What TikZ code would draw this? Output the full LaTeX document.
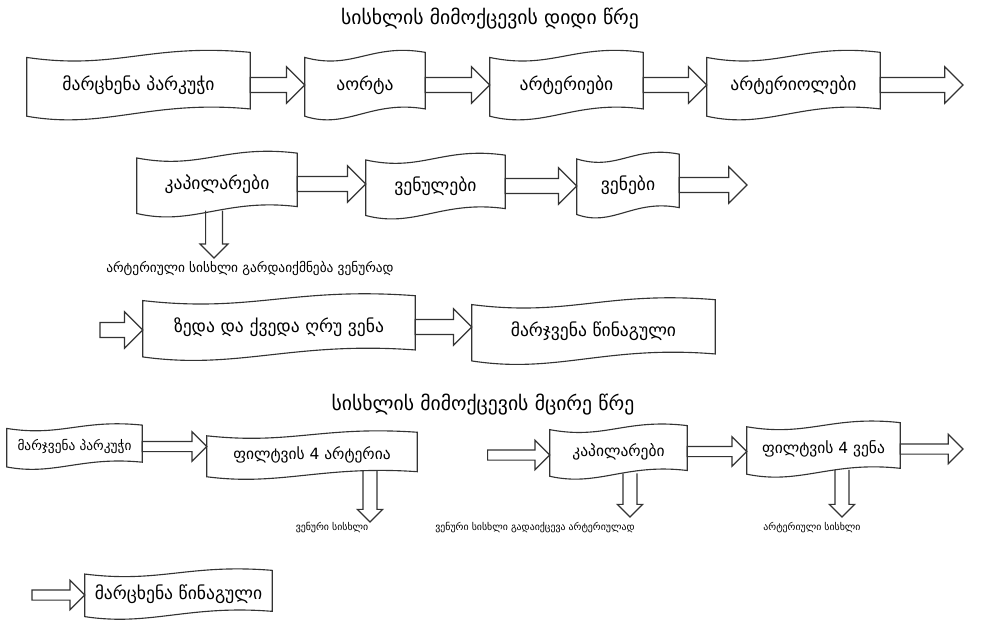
\documentclass[tikz,border=0pt]{standalone}
\usepackage{fontspec}
\usepackage{tikz}
\usetikzlibrary{calc,positioning}
\newfontfamily\geo{DejaVu Sans}

\begin{document}
\begin{tikzpicture}[x=0.025cm,y=-0.025cm,
    box/.style={inner sep=0pt,font=\geo\fontsize{12.5}{15}\selectfont},
    sbox/.style={inner sep=0pt,font=\geo\fontsize{11}{13}\selectfont},
    sz/.style 2 args={minimum width=#1*0.025cm,minimum height=#2*0.025cm},
    title/.style={inner sep=0pt,font=\geo\fontsize{14}{17}\selectfont},
    note/.style={inner sep=0pt,font=\geo\fontsize{7}{8}\selectfont},
    wave/.style={draw=black!80,line width=0.8pt},
    flow/.style args={#1,#2}{draw=black!80,line width=0.8pt,
      to path={let \p1=(\tikztostart),\p2=(\tikztotarget) in
        (\x1,{\y1+#1}) -- ({\x2-#2},{\y1+#1}) -- ({\x2-#2},{\y1+#2}) -- (\x2,\y1)
        -- ({\x2-#2},{\y1-#2}) -- ({\x2-#2},{\y1-#1}) -- (\x1,{\y1-#1}) -- cycle}},
    drop/.style args={#1,#2}{draw=black!80,line width=0.8pt,
      to path={let \p1=(\tikztostart),\p2=(\tikztotarget) in
        ({\x1-#1},\y1) -- ({\x1-#1},{\y2+#2}) -- ({\x1-#2},{\y2+#2}) -- (\x1,\y2)
        -- ({\x1+#2},{\y2+#2}) -- ({\x1+#1},{\y2+#2}) -- ({\x1+#1},\y1)}},
    ]
  \useasboundingbox (0,0) rectangle (996,621);

  % big circle
  \node[title] (t1) at (490,19) {სისხლის მიმოქცევის დიდი წრე};
  \node[box,sz={223}{72}] (lv) at (138.5,85) {მარცხენა პარკუჭი};
  \node[box,sz={120}{72}] (aorta) at (365,85) {აორტა};
  \node[box,sz={153}{72}] (art) at (566.5,85) {არტერიები};
  \node[box,sz={173}{72}] (artl) at (793.5,85) {არტერიოლები};
  \coordinate (e1) at (963,83);

  \node[box,sz={160}{68}] (cap) at (217,184) {კაპილარები};
  \node[box,sz={139}{68}] (venl) at (435.5,186) {ვენულები};
  \node[box,sz={102}{68}] (ven) at (628,185) {ვენები};
  \coordinate (e2) at (747,185);
  \coordinate (d1) at (214,258);
  \node[note,font=\geo\fontsize{9.5}{11}\selectfont] (n1) at (250,268)
    {არტერიული სისხლი გარდაიქმნება ვენურად};

  \coordinate (s3) at (100,330);
  \node[box,sz={272}{69}] (cava) at (279,327) {ზედა და ქვედა ღრუ ვენა};
  \node[box,sz={243}{69}] (ra) at (593.5,331) {მარჯვენა წინაგული};

  % small circle
  \node[title] (t2) at (483,405) {სისხლის მიმოქცევის მცირე წრე};
  \node[sbox,sz={135}{47},font=\geo\fontsize{9.5}{11}\selectfont] (rv) at (74.5,446.5) {მარჯვენა პარკუჭი};
  \node[sbox,sz={210}{50}] (pa) at (312,455) {ფილტვის 4 არტერია};
  \node[sbox,sz={137}{57}] (pcap) at (618.5,451.5) {კაპილარები};
  \node[sbox,sz={153}{58}] (pv) at (823.5,449) {ფილტვის 4 ვენა};
  \coordinate (e4) at (963,450);
  \coordinate (d2) at (370,522);
  \coordinate (d3) at (630,517);
  \coordinate (d4) at (842,517);
  \node[note] (n2) at (332,528) {ვენური სისხლი};
  \node[note] (n3) at (535,528) {ვენური სისხლი გადაიქცევა არტერიულად};
  \node[note] (n4) at (812,528) {არტერიული სისხლი};

  \coordinate (s5) at (32,595);
  \node[box,sz={187}{52}] (la) at (178.5,594) {მარცხენა წინაგული};

  \foreach \n in {lv,aorta,art,artl,cap,venl,ven,cava,ra,rv,pa,pcap,pv,la}{
    \begin{scope}[shift={(\n.south west)},
        x={($(\n.south east)-(\n.south west)$)},
        y={($(\n.north west)-(\n.south west)$)}]
      \draw[wave] (0,0.07) -- (0,0.88) .. controls (0.4,0.7) and (0.55,1.08) .. (1,0.95)
        -- (1,0.17) .. controls (0.55,0.3) and (0.35,-0.12) .. (0,0.07) -- cycle;
    \end{scope}}

  \path (lv.east) edge[flow={5.3pt,13pt}] (aorta.west)
    (aorta.east) edge[flow={5.3pt,13pt}] (art.west)
    (art.east) edge[flow={5.3pt,13pt}] (artl.west)
    (artl.east) edge[flow={5.3pt,13pt}] (e1)
    (cap.east) edge[flow={5.3pt,13pt}] (venl.west)
    (venl.east) edge[flow={5.3pt,13pt}] (ven.west)
    (ven.east) edge[flow={5.3pt,13pt}] (e2)
    (s3) edge[flow={5.3pt,13pt}] (cava.west)
    (cava.east) edge[flow={5.3pt,13pt}] (ra.west)
    (rv.east) edge[flow={3.6pt,10.5pt}] (pa.west)
    ([xshift=50pt]pa.east) edge[flow={3.6pt,10.5pt}] (pcap.west)
    (pcap.east) edge[flow={3.6pt,10.5pt}] (pv.west)
    (pv.east) edge[flow={3.6pt,10.5pt}] (e4)
    (s5) edge[flow={3.6pt,10.5pt}] (la.west);

  \path ([yshift=5.5pt]cap.south -| d1) edge[drop={6pt,10pt}] (d1)
    ([yshift=7pt]pa.south -| d2) edge[drop={5pt,9pt}] (d2)
    ([yshift=5pt]pcap.south -| d3) edge[drop={5pt,9pt}] (d3)
    ([yshift=6pt]pv.south -| d4) edge[drop={5pt,9pt}] (d4);
\end{tikzpicture}
\end{document}
